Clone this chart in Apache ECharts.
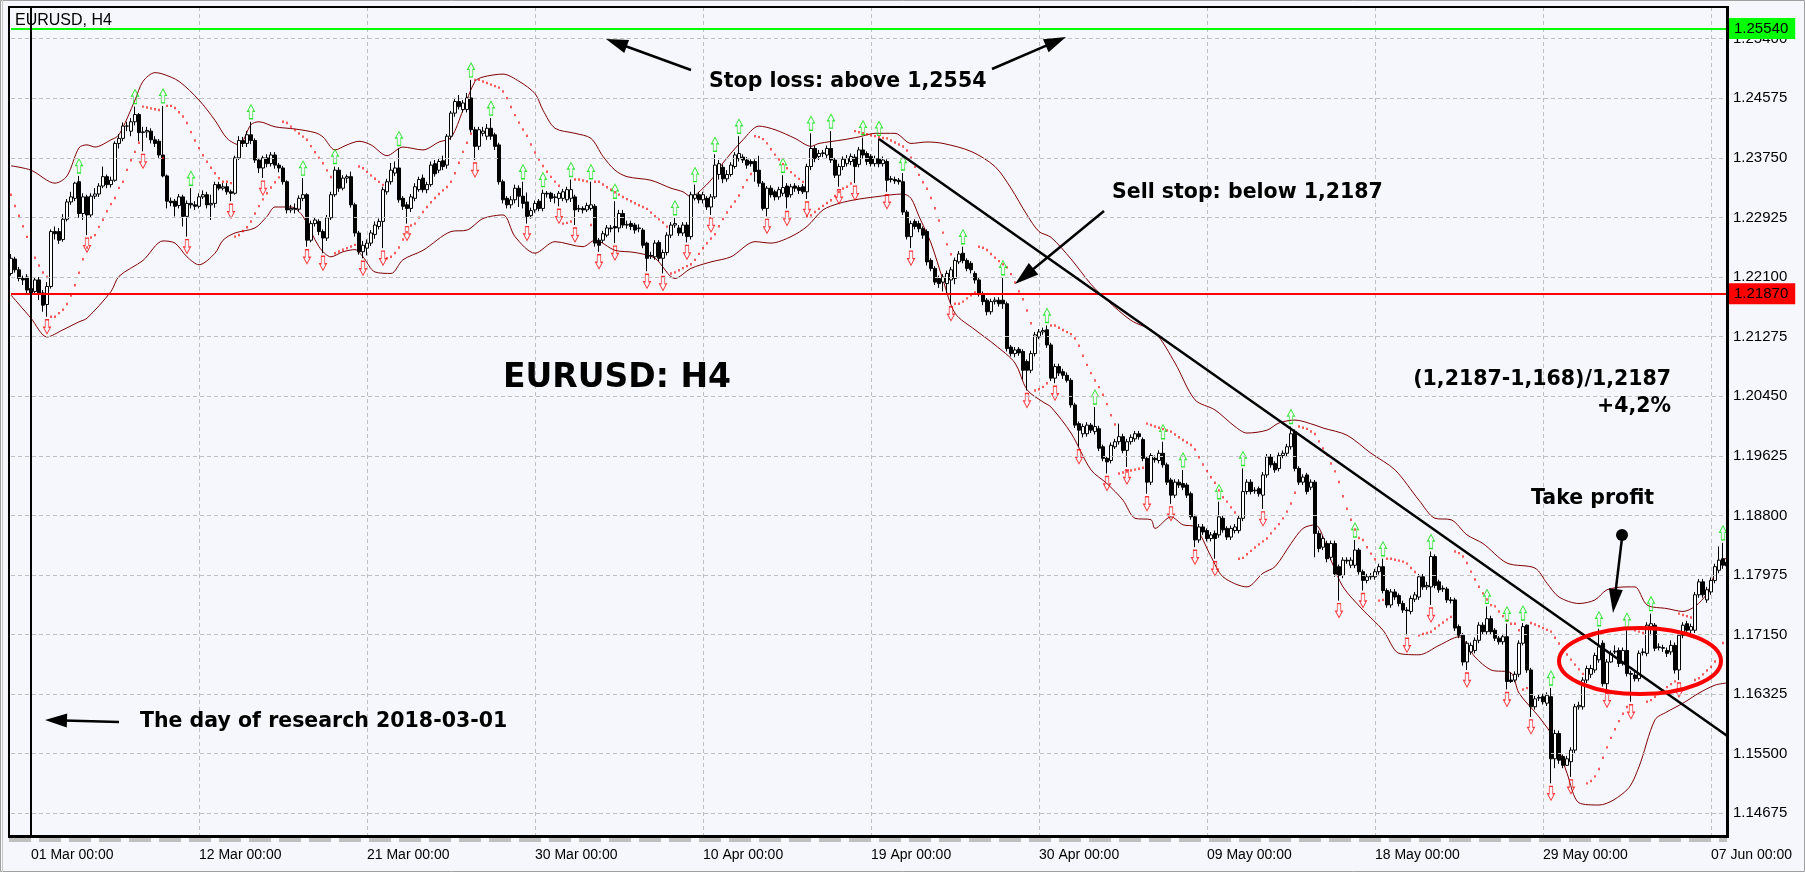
<!DOCTYPE html>
<html><head><meta charset="utf-8">
<script src="https://cdn.jsdelivr.net/npm/echarts@6/dist/echarts.min.js"></script>
<style>html,body{margin:0;padding:0;background:#F5F7FD}#c{width:1805px;height:872px}</style>
</head><body><div id="c"></div><script>
// ---- data (EURUSD H4) ----
const O=[1.2215,1.2235,1.2220,1.2208,1.2210,1.2194,1.2190,1.2206,1.2188,1.2172,
1.2197,1.2273,1.2273,1.2262,1.2290,1.2314,1.2319,1.2342,1.2298,1.2321,
1.2296,1.2322,1.2325,1.2336,1.2349,1.2338,1.2344,1.2395,1.2402,1.2419,
1.2412,1.2425,1.2435,1.2410,1.2411,1.2412,1.2400,1.2398,1.2379,1.2350,
1.2315,1.2315,1.2309,1.2321,1.2294,1.2312,1.2310,1.2308,1.2321,1.2324,
1.2310,1.2312,1.2338,1.2333,1.2335,1.2328,1.2326,1.2375,1.2399,1.2395,
1.2407,1.2399,1.2372,1.2361,1.2375,1.2367,1.2379,1.2365,1.2361,1.2342,
1.2303,1.2305,1.2304,1.2319,1.2324,1.2261,1.2284,1.2287,1.2273,1.2264,
1.2292,1.2324,1.2358,1.2333,1.2347,1.2349,1.2310,1.2271,1.2245,1.2250,
1.2257,1.2269,1.2280,1.2287,1.2328,1.2342,1.2354,1.2361,1.2319,1.2310,
1.2305,1.2319,1.2331,1.2347,1.2331,1.2338,1.2367,1.2358,1.2371,1.2365,
1.2405,1.2437,1.2453,1.2442,1.2442,1.2458,1.2414,1.2391,1.2409,1.2405,
1.2416,1.2407,1.2393,1.2342,1.2319,1.2310,1.2317,1.2333,1.2322,1.2314,
1.2295,1.2303,1.2315,1.2305,1.2326,1.2326,1.2320,1.2319,1.2319,1.2317,
1.2319,1.2321,1.2304,1.2305,1.2303,1.2305,1.2308,1.2261,1.2261,1.2268,
1.2278,1.2280,1.2278,1.2298,1.2282,1.2284,1.2282,1.2277,1.2275,1.2257,
1.2240,1.2238,1.2258,1.2236,1.2244,1.2268,1.2282,1.2278,1.2271,1.2282,
1.2266,1.2319,1.2324,1.2317,1.2319,1.2307,1.2321,1.2352,1.2362,1.2346,
1.2352,1.2363,1.2374,1.2376,1.2372,1.2370,1.2370,1.2358,1.2340,1.2305,
1.2333,1.2328,1.2321,1.2326,1.2336,1.2324,1.2336,1.2334,1.2335,1.2328,
1.2363,1.2388,1.2377,1.2381,1.2379,1.2388,1.2372,1.2351,1.2363,1.2367,
1.2370,1.2376,1.2366,1.2386,1.2381,1.2377,1.2367,1.2374,1.2367,1.2370,
1.2346,1.2345,1.2344,1.2342,1.2300,1.2266,1.2287,1.2284,1.2277,1.2273,
1.2233,1.2222,1.2208,1.2203,1.2201,1.2206,1.2208,1.2231,1.2243,1.2233,
1.2229,1.2215,1.2206,1.2187,1.2178,1.2162,1.2176,1.2178,1.2178,1.2173,
1.2113,1.2104,1.2110,1.2107,1.2093,1.2081,1.2104,1.2127,1.2134,1.2137,
1.2116,1.2070,1.2086,1.2079,1.2074,1.2067,1.2033,1.2007,1.1993,1.1993,
1.2005,1.1996,1.2000,1.1975,1.1959,1.1956,1.1975,1.1982,1.1989,1.1970,
1.1982,1.1986,1.1993,1.1985,1.1959,1.1926,1.1959,1.1956,1.1966,1.1950,
1.1929,1.1908,1.1926,1.1924,1.1922,1.1910,1.1878,1.1846,1.1864,1.1859,
1.1848,1.1855,1.1853,1.1876,1.1862,1.1850,1.1859,1.1859,1.1876,1.1913,
1.1926,1.1914,1.1917,1.1908,1.1936,1.1961,1.1952,1.1945,1.1963,1.1966,
1.1975,1.1996,1.1945,1.1926,1.1936,1.1919,1.1926,1.1855,1.1836,1.1841,
1.1822,1.1841,1.1809,1.1797,1.1818,1.1811,1.1811,1.1832,1.1802,1.1790,
1.1795,1.1795,1.1802,1.1809,1.1776,1.1756,1.1774,1.1769,1.1758,1.1749,
1.1747,1.1764,1.1767,1.1795,1.1781,1.1781,1.1823,1.1788,1.1779,1.1778,
1.1763,1.1763,1.1726,1.1714,1.1677,1.1691,1.1693,1.1707,1.1728,1.1719,
1.1737,1.1721,1.1710,1.1705,1.1712,1.1652,1.1652,1.1660,1.1703,1.1728,
1.1666,1.1615,1.1627,1.1629,1.1620,1.1629,1.1543,1.1578,1.1546,1.1534,
1.1539,1.1555,1.1615,1.1615,1.1652,1.1660,1.1666,1.1680,1.1703,1.1647,
1.1677,1.1691,1.1693,1.1675,1.1693,1.1661,1.1659,1.1654,1.1690,1.1689,
1.1726,1.1728,1.1697,1.1696,1.1693,1.1691,1.1700,1.1666,1.1714,1.1730,
1.1721,1.1721,1.1770,1.1788,1.1763,1.1774,1.1790,1.1804,1.1820,1.1815];
const H=[1.2242,1.2238,1.2224,1.2212,1.2214,1.2203,1.2210,1.2210,1.2192,1.2203,
1.2276,1.2280,1.2278,1.2297,1.2318,1.2328,1.2342,1.2350,1.2326,1.2324,
1.2326,1.2333,1.2340,1.2363,1.2352,1.2349,1.2398,1.2408,1.2424,1.2425,
1.2430,1.2446,1.2437,1.2418,1.2418,1.2416,1.2405,1.2401,1.2447,1.2352,
1.2320,1.2318,1.2325,1.2324,1.2316,1.2333,1.2315,1.2326,1.2330,1.2328,
1.2324,1.2342,1.2342,1.2340,1.2340,1.2331,1.2378,1.2405,1.2404,1.2412,
1.2425,1.2402,1.2375,1.2378,1.2380,1.2383,1.2383,1.2368,1.2364,1.2344,
1.2310,1.2312,1.2323,1.2347,1.2326,1.2288,1.2293,1.2290,1.2276,1.2296,
1.2328,1.2363,1.2362,1.2351,1.2352,1.2356,1.2313,1.2274,1.2260,1.2262,
1.2275,1.2287,1.2291,1.2335,1.2346,1.2368,1.2370,1.2388,1.2322,1.2314,
1.2325,1.2340,1.2349,1.2352,1.2342,1.2370,1.2372,1.2375,1.2378,1.2408,
1.2440,1.2458,1.2462,1.2455,1.2465,1.2483,1.2418,1.2418,1.2418,1.2422,
1.2430,1.2410,1.2396,1.2345,1.2322,1.2322,1.2338,1.2337,1.2342,1.2327,
1.2306,1.2316,1.2318,1.2331,1.2329,1.2328,1.2325,1.2329,1.2332,1.2335,
1.2345,1.2324,1.2310,1.2308,1.2313,1.2342,1.2311,1.2264,1.2274,1.2282,
1.2282,1.2315,1.2303,1.2303,1.2288,1.2288,1.2285,1.2283,1.2278,1.2259,
1.2245,1.2261,1.2261,1.2248,1.2272,1.2286,1.2292,1.2282,1.2286,1.2286,
1.2328,1.2338,1.2328,1.2328,1.2322,1.2325,1.2380,1.2372,1.2366,1.2358,
1.2369,1.2383,1.2405,1.2380,1.2376,1.2373,1.2373,1.2378,1.2343,1.2336,
1.2337,1.2331,1.2335,1.2351,1.2340,1.2339,1.2340,1.2337,1.2339,1.2367,
1.2409,1.2392,1.2386,1.2386,1.2392,1.2412,1.2375,1.2367,1.2377,1.2379,
1.2381,1.2380,1.2390,1.2403,1.2384,1.2380,1.2378,1.2402,1.2377,1.2373,
1.2350,1.2349,1.2347,1.2354,1.2303,1.2288,1.2290,1.2288,1.2280,1.2276,
1.2236,1.2225,1.2212,1.2214,1.2219,1.2224,1.2237,1.2246,1.2252,1.2236,
1.2232,1.2218,1.2209,1.2190,1.2181,1.2180,1.2182,1.2182,1.2209,1.2176,
1.2116,1.2113,1.2113,1.2110,1.2096,1.2108,1.2134,1.2138,1.2140,1.2143,
1.2119,1.2090,1.2090,1.2083,1.2078,1.2070,1.2036,1.2010,1.2007,1.2009,
1.2008,1.2030,1.2004,1.1978,1.1962,1.1981,1.1986,1.2007,1.1993,1.1986,
1.1992,1.1997,1.1997,1.1988,1.1962,1.1966,1.1963,1.1970,1.1982,1.1953,
1.1932,1.1930,1.1930,1.1943,1.1925,1.1913,1.1881,1.1868,1.1868,1.1862,
1.1857,1.1859,1.1899,1.1880,1.1865,1.1866,1.1868,1.1880,1.1945,1.1930,
1.1930,1.1919,1.1920,1.1940,1.1965,1.1965,1.1955,1.1967,1.1970,1.1979,
1.2003,1.1999,1.1948,1.1937,1.1939,1.1930,1.1929,1.1859,1.1852,1.1845,
1.1845,1.1845,1.1812,1.1822,1.1822,1.1822,1.1846,1.1835,1.1805,1.1799,
1.1800,1.1806,1.1813,1.1820,1.1779,1.1778,1.1778,1.1772,1.1762,1.1753,
1.1769,1.1774,1.1799,1.1799,1.1788,1.1830,1.1826,1.1791,1.1783,1.1781,
1.1767,1.1766,1.1729,1.1717,1.1706,1.1704,1.1711,1.1732,1.1732,1.1754,
1.1741,1.1724,1.1713,1.1716,1.1730,1.1662,1.1664,1.1707,1.1731,1.1729,
1.1669,1.1630,1.1632,1.1633,1.1635,1.1641,1.1583,1.1582,1.1549,1.1547,
1.1559,1.1619,1.1622,1.1656,1.1672,1.1673,1.1690,1.1723,1.1707,1.1681,
1.1693,1.1700,1.1697,1.1697,1.1721,1.1665,1.1663,1.1693,1.1696,1.1732,
1.1744,1.1731,1.1703,1.1701,1.1697,1.1707,1.1704,1.1718,1.1732,1.1734,
1.1730,1.1774,1.1792,1.1792,1.1781,1.1794,1.1813,1.1837,1.1842,1.1822];
const L=[1.2212,1.2216,1.2204,1.2199,1.2188,1.2183,1.2186,1.2178,1.2162,1.2155,
1.2194,1.2262,1.2256,1.2259,1.2287,1.2310,1.2315,1.2292,1.2289,1.2268,
1.2293,1.2318,1.2321,1.2333,1.2333,1.2334,1.2342,1.2388,1.2398,1.2412,
1.2405,1.2420,1.2398,1.2384,1.2403,1.2395,1.2390,1.2375,1.2348,1.2305,
1.2308,1.2294,1.2305,1.2280,1.2266,1.2305,1.2303,1.2305,1.2318,1.2305,
1.2289,1.2306,1.2330,1.2330,1.2324,1.2315,1.2324,1.2372,1.2390,1.2390,
1.2394,1.2368,1.2354,1.2347,1.2362,1.2363,1.2360,1.2355,1.2338,1.2298,
1.2299,1.2298,1.2300,1.2315,1.2252,1.2258,1.2280,1.2268,1.2243,1.2260,
1.2289,1.2321,1.2328,1.2330,1.2340,1.2306,1.2266,1.2241,1.2236,1.2240,
1.2253,1.2263,1.2276,1.2250,1.2324,1.2338,1.2350,1.2313,1.2303,1.2284,
1.2300,1.2315,1.2328,1.2327,1.2326,1.2335,1.2349,1.2354,1.2358,1.2360,
1.2400,1.2432,1.2442,1.2438,1.2438,1.2410,1.2372,1.2386,1.2405,1.2400,
1.2400,1.2386,1.2338,1.2312,1.2305,1.2305,1.2312,1.2307,1.2305,1.2284,
1.2291,1.2299,1.2301,1.2301,1.2320,1.2314,1.2312,1.2308,1.2315,1.2313,
1.2314,1.2282,1.2300,1.2298,1.2300,1.2302,1.2252,1.2245,1.2257,1.2265,
1.2272,1.2257,1.2272,1.2278,1.2277,1.2275,1.2270,1.2272,1.2250,1.2218,
1.2235,1.2234,1.2232,1.2215,1.2240,1.2264,1.2278,1.2267,1.2267,1.2258,
1.2262,1.2316,1.2312,1.2312,1.2303,1.2296,1.2318,1.2345,1.2340,1.2342,
1.2349,1.2360,1.2370,1.2368,1.2360,1.2363,1.2342,1.2335,1.2302,1.2294,
1.2320,1.2316,1.2317,1.2322,1.2305,1.2320,1.2328,1.2325,1.2325,1.2318,
1.2358,1.2369,1.2372,1.2376,1.2375,1.2368,1.2347,1.2335,1.2358,1.2363,
1.2365,1.2340,1.2362,1.2374,1.2365,1.2363,1.2363,1.2362,1.2363,1.2328,
1.2341,1.2339,1.2338,1.2296,1.2262,1.2250,1.2276,1.2272,1.2263,1.2226,
1.2218,1.2199,1.2195,1.2190,1.2187,1.2173,1.2200,1.2228,1.2229,1.2218,
1.2215,1.2201,1.2183,1.2171,1.2157,1.2158,1.2172,1.2169,1.2166,1.2107,
1.2100,1.2099,1.2101,1.2068,1.2053,1.2077,1.2100,1.2124,1.2130,1.2112,
1.2066,1.2063,1.2073,1.2069,1.2064,1.2029,1.2001,1.1975,1.1988,1.1989,
1.1994,1.1992,1.1969,1.1955,1.1938,1.1952,1.1972,1.1978,1.1966,1.1947,
1.1978,1.1982,1.1985,1.1955,1.1910,1.1922,1.1953,1.1952,1.1946,1.1922,
1.1896,1.1904,1.1918,1.1915,1.1904,1.1874,1.1836,1.1842,1.1853,1.1844,
1.1844,1.1820,1.1849,1.1856,1.1846,1.1846,1.1855,1.1855,1.1872,1.1909,
1.1909,1.1910,1.1906,1.1889,1.1932,1.1946,1.1939,1.1941,1.1959,1.1962,
1.1971,1.1941,1.1922,1.1922,1.1909,1.1915,1.1822,1.1829,1.1832,1.1815,
1.1818,1.1795,1.1762,1.1793,1.1813,1.1807,1.1807,1.1798,1.1776,1.1786,
1.1791,1.1791,1.1798,1.1772,1.1752,1.1752,1.1763,1.1754,1.1745,1.1714,
1.1743,1.1760,1.1763,1.1777,1.1777,1.1756,1.1779,1.1773,1.1774,1.1759,
1.1758,1.1720,1.1710,1.1672,1.1666,1.1687,1.1689,1.1703,1.1715,1.1715,
1.1715,1.1706,1.1701,1.1701,1.1639,1.1648,1.1649,1.1656,1.1700,1.1662,
1.1601,1.1611,1.1623,1.1618,1.1616,1.1509,1.1530,1.1536,1.1530,1.1533,
1.1518,1.1551,1.1611,1.1611,1.1648,1.1655,1.1662,1.1676,1.1643,1.1638,
1.1676,1.1688,1.1670,1.1672,1.1657,1.1622,1.1650,1.1650,1.1686,1.1685,
1.1714,1.1692,1.1693,1.1691,1.1684,1.1687,1.1661,1.1652,1.1710,1.1717,
1.1717,1.1717,1.1766,1.1766,1.1759,1.1770,1.1786,1.1800,1.1806,1.1806];
const C=[1.2236,1.2220,1.2208,1.2206,1.2192,1.2188,1.2206,1.2188,1.2171,1.2197,
1.2273,1.2270,1.2261,1.2290,1.2314,1.2321,1.2340,1.2298,1.2321,1.2296,
1.2322,1.2325,1.2336,1.2349,1.2338,1.2344,1.2395,1.2402,1.2419,1.2419,
1.2425,1.2435,1.2410,1.2411,1.2413,1.2400,1.2395,1.2379,1.2350,1.2315,
1.2313,1.2308,1.2321,1.2294,1.2312,1.2310,1.2308,1.2321,1.2324,1.2310,
1.2312,1.2338,1.2333,1.2335,1.2328,1.2326,1.2375,1.2399,1.2395,1.2407,
1.2399,1.2372,1.2361,1.2375,1.2367,1.2379,1.2365,1.2361,1.2342,1.2303,
1.2305,1.2304,1.2319,1.2324,1.2261,1.2284,1.2289,1.2273,1.2264,1.2292,
1.2324,1.2358,1.2333,1.2347,1.2349,1.2310,1.2271,1.2245,1.2254,1.2257,
1.2271,1.2282,1.2287,1.2331,1.2342,1.2358,1.2361,1.2317,1.2308,1.2305,
1.2321,1.2335,1.2345,1.2331,1.2338,1.2365,1.2353,1.2370,1.2363,1.2405,
1.2437,1.2453,1.2446,1.2451,1.2458,1.2414,1.2391,1.2414,1.2412,1.2416,
1.2405,1.2391,1.2342,1.2317,1.2310,1.2317,1.2333,1.2322,1.2312,1.2294,
1.2302,1.2312,1.2305,1.2326,1.2325,1.2319,1.2321,1.2326,1.2328,1.2331,
1.2331,1.2303,1.2305,1.2303,1.2309,1.2310,1.2257,1.2254,1.2270,1.2278,
1.2277,1.2278,1.2298,1.2282,1.2283,1.2280,1.2275,1.2278,1.2254,1.2236,
1.2239,1.2257,1.2236,1.2244,1.2268,1.2282,1.2284,1.2271,1.2282,1.2266,
1.2324,1.2324,1.2317,1.2324,1.2307,1.2321,1.2365,1.2367,1.2346,1.2352,
1.2365,1.2379,1.2381,1.2372,1.2365,1.2367,1.2356,1.2340,1.2305,1.2333,
1.2324,1.2321,1.2331,1.2334,1.2321,1.2335,1.2333,1.2330,1.2328,1.2363,
1.2388,1.2374,1.2381,1.2382,1.2388,1.2372,1.2351,1.2363,1.2373,1.2374,
1.2377,1.2363,1.2386,1.2379,1.2370,1.2367,1.2374,1.2367,1.2372,1.2344,
1.2345,1.2343,1.2342,1.2300,1.2266,1.2284,1.2280,1.2277,1.2268,1.2231,
1.2222,1.2203,1.2201,1.2210,1.2215,1.2220,1.2233,1.2242,1.2233,1.2222,
1.2220,1.2206,1.2187,1.2176,1.2162,1.2176,1.2178,1.2173,1.2173,1.2111,
1.2104,1.2109,1.2105,1.2081,1.2081,1.2104,1.2130,1.2134,1.2136,1.2116,
1.2070,1.2086,1.2077,1.2074,1.2067,1.2033,1.2005,1.1998,1.2003,1.2005,
1.1998,1.2003,1.1973,1.1959,1.1954,1.1977,1.1982,1.1989,1.1970,1.1982,
1.1988,1.1993,1.1989,1.1959,1.1926,1.1963,1.1957,1.1966,1.1950,1.1926,
1.1908,1.1926,1.1922,1.1919,1.1908,1.1878,1.1846,1.1864,1.1857,1.1848,
1.1853,1.1848,1.1878,1.1860,1.1850,1.1862,1.1864,1.1876,1.1913,1.1926,
1.1913,1.1915,1.1910,1.1936,1.1961,1.1950,1.1943,1.1963,1.1966,1.1975,
1.1993,1.1945,1.1926,1.1933,1.1913,1.1926,1.1855,1.1834,1.1848,1.1820,
1.1841,1.1799,1.1797,1.1818,1.1817,1.1818,1.1832,1.1802,1.1790,1.1795,
1.1796,1.1802,1.1809,1.1776,1.1756,1.1774,1.1767,1.1758,1.1749,1.1748,
1.1765,1.1770,1.1795,1.1781,1.1783,1.1823,1.1783,1.1777,1.1778,1.1763,
1.1762,1.1724,1.1714,1.1677,1.1703,1.1700,1.1707,1.1728,1.1719,1.1737,
1.1719,1.1710,1.1705,1.1712,1.1650,1.1650,1.1660,1.1703,1.1726,1.1666,
1.1615,1.1626,1.1628,1.1622,1.1631,1.1543,1.1578,1.1541,1.1534,1.1543,
1.1555,1.1615,1.1617,1.1652,1.1668,1.1668,1.1686,1.1698,1.1647,1.1677,
1.1689,1.1692,1.1675,1.1693,1.1661,1.1660,1.1654,1.1689,1.1691,1.1728,
1.1730,1.1696,1.1698,1.1697,1.1689,1.1700,1.1666,1.1714,1.1728,1.1721,
1.1726,1.1770,1.1788,1.1770,1.1777,1.1790,1.1809,1.1818,1.1811,1.1810];

// Bollinger bands: [bar index, price]
const bbUpper=[[0,1.2364],[5,1.2358],[11,1.2340],[14,1.2350],[17,1.2389],[19,1.2393],[21,1.2390],[25,1.2400],[27,1.2407],[31,1.2455],[33,1.2481],[36,1.2493],[38,1.2491],[42,1.2481],[47,1.2455],[51,1.2427],[54,1.2402],[57,1.2393],[60,1.2421],[62,1.2425],[66,1.2418],[71,1.2415],[76,1.2410],[78,1.2404],[81,1.2386],[84,1.2393],[87,1.2398],[90,1.2393],[94,1.2378],[98,1.2390],[103,1.2386],[107,1.2397],[110,1.2403],[113,1.2441],[116,1.2481],[118,1.2487],[123,1.2491],[127,1.2481],[131,1.2464],[133,1.2441],[136,1.2416],[141,1.2409],[145,1.2402],[148,1.2377],[151,1.2358],[154,1.2349],[160,1.2344],[165,1.2333],[168,1.2328],[170,1.2321],[173,1.2333],[176,1.2351],[178,1.2368],[183,1.2400],[187,1.2419],[191,1.2414],[196,1.2402],[200,1.2391],[202,1.2395],[208,1.2400],[212,1.2404],[216,1.2409],[221,1.2409],[225,1.2395],[229,1.2397],[233,1.2395],[240,1.2384],[246,1.2363],[250,1.2333],[254,1.2296],[257,1.2273],[260,1.2265],[265,1.2235],[270,1.2200],[274,1.2178],[280,1.2150],[286,1.2133],[291,1.2091],[296,1.2040],[301,1.2026],[306,1.2003],[309,1.1994],[314,1.1998],[317,1.2008],[321,1.2012],[326,1.2005],[328,1.2001],[334,1.1991],[340,1.1966],[346,1.1943],[352,1.1901],[356,1.1876],[360,1.1874],[364,1.1853],[368,1.1841],[374,1.1814],[381,1.1807],[384,1.1786],[387,1.1767],[392,1.1758],[396,1.1763],[399,1.1777],[404,1.1781],[406,1.1781],[409,1.1756],[414,1.1751],[418,1.1747],[421,1.1754],[424,1.1772],[427,1.1814],[429,1.1821]];
const bbLower=[[0,1.2185],[5,1.2153],[9,1.2127],[13,1.2137],[17,1.2148],[19,1.2153],[25,1.2190],[27,1.2211],[33,1.2233],[38,1.2260],[41,1.2257],[44,1.2238],[47,1.2227],[51,1.2243],[53,1.2261],[56,1.2271],[61,1.2278],[64,1.2294],[66,1.2307],[70,1.2307],[73,1.2294],[77,1.2252],[80,1.2238],[83,1.2245],[86,1.2248],[88,1.2238],[91,1.2217],[95,1.2215],[98,1.2234],[103,1.2247],[110,1.2273],[114,1.2275],[118,1.2291],[123,1.2296],[126,1.2266],[131,1.2243],[136,1.2259],[143,1.2252],[146,1.2261],[151,1.2247],[156,1.2244],[161,1.2236],[166,1.2208],[170,1.2222],[175,1.2231],[180,1.2238],[186,1.2259],[190,1.2257],[195,1.2266],[199,1.2280],[203,1.2303],[207,1.2312],[211,1.2317],[216,1.2321],[223,1.2325],[225,1.2319],[227,1.2294],[230,1.2257],[233,1.2206],[236,1.2160],[241,1.2137],[246,1.2116],[251,1.2091],[254,1.2054],[258,1.2037],[260,1.2030],[265,1.1994],[270,1.1943],[274,1.1924],[278,1.1901],[281,1.1876],[285,1.1874],[286,1.1862],[290,1.1878],[293,1.1867],[296,1.1864],[300,1.1823],[303,1.1795],[309,1.1781],[313,1.1800],[316,1.1809],[320,1.1841],[323,1.1862],[326,1.1867],[330,1.1818],[333,1.1781],[338,1.1749],[343,1.1721],[347,1.1689],[352,1.1687],[357,1.1700],[362,1.1712],[366,1.1684],[370,1.1666],[375,1.1662],[377,1.1634],[382,1.1601],[386,1.1569],[389,1.1523],[392,1.1482],[397,1.1479],[404,1.1500],[407,1.1532],[411,1.1597],[414,1.1608],[418,1.1620],[422,1.1634],[426,1.1645],[429,1.1648]];

// fractal bars
const fracUp=[17,31,38,45,60,73,81,97,115,120,128,133,140,145,151,166,171,176,182,193,200,205,213,217,223,238,248,259,271,288,293,302,308,320,336,343,355,369,374,378,385,397,404,410,428];
const fracDown=[9,19,33,44,55,63,74,78,88,93,99,116,129,137,141,147,151,159,163,169,175,189,194,199,207,211,219,225,235,254,261,267,274,279,284,290,296,301,313,332,338,349,355,364,374,380,385,390,399,405,417];

const sarStart=1.2324;            // SAR value at the first bar
const trendLine=[[217,1.2401],[429,1.1575]];
const stopLoss=1.2554, sellStop=1.2187;
const researchBar=5;
const xTickIdx=[5,47,89,131,173,215,257,299,341,383,425];
const xTickLabels=['01 Mar 00:00','12 Mar 00:00','21 Mar 00:00','30 Mar 00:00','10 Apr 00:00','19 Apr 00:00','30 Apr 00:00','09 May 00:00','18 May 00:00','29 May 00:00','07 Jun 00:00'];
const yTicks=[1.14675,1.155,1.16325,1.1715,1.17975,1.188,1.19625,1.2045,1.21275,1.221,1.22925,1.2375,1.24575,1.254];
const yMin=1.14361, yMax=1.25839;

// ---- build ----
const N=C.length;
const cats=Array.from({length:N},(_,i)=>String(i));
const candles=C.map((c,i)=>[O[i],c,L[i],H[i]]);
function psar(H,L,start){
  const out=new Array(H.length); let up=false, af=0.14, ep=L[0], sar=start; out[0]=sar;
  for(let i=1;i<H.length;i++){
    sar=sar+af*(ep-sar);
    if(up){ sar=Math.min(sar,L[i-1],L[Math.max(0,i-2)]);
      if(L[i]<sar){up=false;sar=ep;ep=L[i];af=0.02;} else if(H[i]>ep){ep=H[i];af=Math.min(af+0.02,0.2);} }
    else { sar=Math.max(sar,H[i-1],H[Math.max(0,i-2)]);
      if(H[i]>sar){up=true;sar=ep;ep=H[i];af=0.02;} else if(L[i]<ep){ep=L[i];af=Math.min(af+0.02,0.2);} }
    out[i]=sar;
  }
  return out;
}
const sar=psar(H,L,sarStart);
const tickSet=new Set(xTickIdx);
const labelMap={}; xTickIdx.forEach((k,j)=>labelMap[k]=xTickLabels[j]);

const ANN_FONT='bold 20.5px "DejaVu Sans", sans-serif';
function arrow(x1,y1,x2,y2,w,hl,hw){
  const dx=x2-x1,dy=y2-y1,len=Math.hypot(dx,dy),ux=dx/len,uy=dy/len;
  const bx=x2-ux*hl,by=y2-uy*hl,px=-uy,py=ux;
  return [
    {type:'line',z:100,shape:{x1:x1,y1:y1,x2:bx+ux*3,y2:by+uy*3},style:{stroke:'#000',lineWidth:w}},
    {type:'polygon',z:100,shape:{points:[[x2,y2],[bx+px*hw/2,by+py*hw/2],[bx-px*hw/2,by-py*hw/2]]},style:{fill:'#000'}}
  ];
}
function txt(x,y,s,font,align){
  return {type:'text',z:100,x:x,y:y,style:{text:s,font:font,fill:'#000',textAlign:align||'left',textVerticalAlign:'middle'}};
}
const graphics=[
  {type:'rect',z:90,shape:{x:0.5,y:0.5,width:1804,height:871},style:{fill:'none',stroke:'#A0A0A0',lineWidth:1}},
  {type:'line',z:90,shape:{x1:2.5,y1:0,x2:2.5,y2:872},style:{stroke:'#C8C8C8',lineWidth:1}},
  {type:'line',z:90,shape:{x1:9,y1:840,x2:1727,y2:840},style:{stroke:'#C0C0C0',lineWidth:4,lineDash:[22,8]}},
  {type:'line',z:95,shape:{x1:8,y1:7,x2:1728,y2:7},style:{stroke:'#000',lineWidth:2}},
  {type:'line',z:95,shape:{x1:9,y1:6,x2:9,y2:837},style:{stroke:'#000',lineWidth:2}},
  {type:'line',z:95,shape:{x1:1727.5,y1:6,x2:1727.5,y2:837.5},style:{stroke:'#000',lineWidth:3}},
  {type:'line',z:95,shape:{x1:8,y1:836.5,x2:1729,y2:836.5},style:{stroke:'#000',lineWidth:3}},
  txt(15,21,'EURUSD, H4','16px "Liberation Sans", Arial, sans-serif'),
  txt(709,82,'Stop loss: above 1,2554',ANN_FONT),
  ...arrow(691,70,606,39,2.5,22,14),
  ...arrow(992,69,1066,37,2.5,22,14),
  txt(1112,193,'Sell stop: below 1,2187',ANN_FONT),
  ...arrow(1104,211,1015,284,2.5,24,15),
  txt(503,378,'EURUSD: H4','bold 33px "DejaVu Sans", sans-serif'),
  txt(1671,380,'(1,2187-1,168)/1,2187',ANN_FONT,'right'),
  txt(1671,407,'+4,2%',ANN_FONT,'right'),
  txt(1531,499,'Take profit',ANN_FONT),
  {type:'circle',z:100,shape:{cx:1622,cy:535,r:6},style:{fill:'#000'}},
  ...arrow(1622,538,1613,613,2.5,24,14),
  {type:'ellipse',z:100,shape:{cx:1640,cy:661,rx:81,ry:33},style:{fill:'none',stroke:'#FF0000',lineWidth:4}},
  txt(140,722,'The day of research 2018-03-01',ANN_FONT),
  ...arrow(119,722,45,720,2.5,22,14)
];

const upPath='path://M4,0 L8,7 L6,7 L6,15 L2,15 L2,7 L0,7 Z';
const dnPath='path://M2,0 L6,0 L6,8 L8,8 L4,15 L0,8 L2,8 Z';

const chart=echarts.init(document.getElementById('c'),null,{renderer:'canvas'});
chart.setOption({
  backgroundColor:'#F5F7FD',
  animation:false,
  grid:{left:11,right:78,top:7,bottom:36},
  xAxis:{type:'category',data:cats,boundaryGap:false,
    axisLine:{show:false},axisTick:{show:false},
    axisLabel:{interval:(i)=>tickSet.has(i),formatter:(v,i)=>labelMap[i]||'',align:'left',margin:12,
      fontSize:14,fontFamily:'"Liberation Sans", Arial, sans-serif',color:'#000'},
    splitLine:{show:true,interval:(i)=>tickSet.has(i),lineStyle:{color:'#C0C0C0',type:[4,3],width:1}}},
  yAxis:{type:'value',min:yMin,max:yMax,axisLine:{show:false},axisTick:{show:false},axisLabel:{show:false},splitLine:{show:false}},
  series:[
    {type:'line',name:'bbU',data:bbUpper,smooth:0.3,symbol:'none',z:2,
      lineStyle:{color:'#800000',width:1},
      markLine:{silent:true,symbol:['none','none'],animation:false,precision:5,
        data:yTicks.map(v=>({yAxis:v})),
        lineStyle:{color:'#C0C0C0',type:[4,3],width:1},
        label:{position:'end',distance:6,formatter:p=>Number(p.value).toFixed(5),fontSize:15,
          fontFamily:'"Liberation Sans", Arial, sans-serif',color:'#000'}}},
    {type:'line',name:'bbL',data:bbLower,smooth:0.3,symbol:'none',z:2,lineStyle:{color:'#800000',width:1}},
    {type:'candlestick',data:candles,barWidth:3,z:3,
      itemStyle:{color:'#FFFFFF',color0:'#000000',borderColor:'#000000',borderColor0:'#000000',borderWidth:1}},
    {type:'scatter',data:sar.map((v,i)=>[i,v]),symbol:'rect',symbolSize:[1.6,2.4],z:4,
      itemStyle:{color:'#FF0000'}},
    {type:'scatter',data:fracUp.map(i=>[i,H[i]]),symbol:upPath,symbolSize:[7,14],symbolOffset:[0,-10],z:4,
      itemStyle:{color:'rgba(0,0,0,0)',borderColor:'#00E000',borderWidth:1}},
    {type:'scatter',data:fracDown.map(i=>[i,L[i]]),symbol:dnPath,symbolSize:[7,14],symbolOffset:[0,10],z:4,
      itemStyle:{color:'rgba(0,0,0,0)',borderColor:'#FF0000',borderWidth:1}},
    {type:'line',data:trendLine,symbol:'none',z:6,lineStyle:{color:'#000',width:2.5},
      markLine:{silent:true,symbol:['none','none'],animation:false,precision:5,
        data:[
          {yAxis:stopLoss,lineStyle:{color:'#00FF00',width:2,type:'solid'},
            label:{position:'end',distance:1,formatter:stopLoss.toFixed(5),backgroundColor:'#00FF00',color:'#000',
              padding:[3,7,3,6],fontSize:15,fontFamily:'"Liberation Sans", Arial, sans-serif'}},
          {yAxis:sellStop,lineStyle:{color:'#FF0000',width:2,type:'solid'},
            label:{position:'end',distance:1,formatter:sellStop.toFixed(5),backgroundColor:'#FF0000',color:'#000',
              padding:[3,7,3,6],fontSize:15,fontFamily:'"Liberation Sans", Arial, sans-serif'}},
          {xAxis:researchBar,lineStyle:{color:'#000',width:2,type:'solid'},label:{show:false}}
        ]}}
  ],
  graphic:graphics
});
</script></body></html>
